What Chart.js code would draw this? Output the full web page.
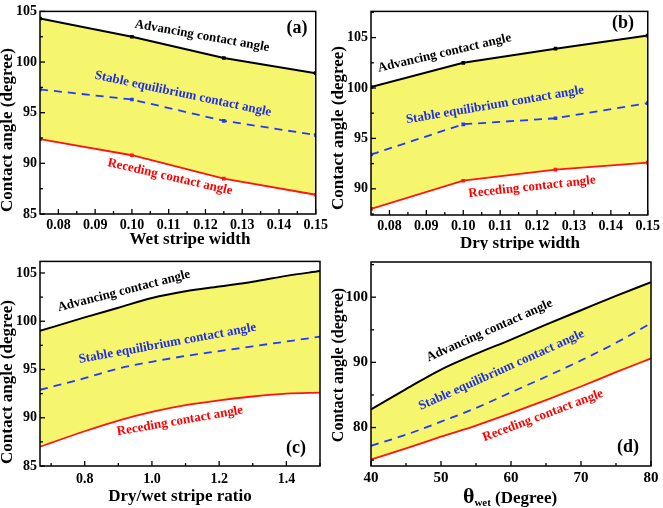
<!DOCTYPE html>
<html>
<head>
<meta charset="utf-8">
<script src="https://cdn.jsdelivr.net/npm/chart.js@4.4.1/dist/chart.umd.min.js"></script>
<style>
html,body{margin:0;padding:0;background:#fff;}
#wrap{position:relative;width:663px;height:508px;overflow:hidden;}
canvas{position:absolute;}
</style>
</head>
<body>
<div id="wrap">
<canvas id="ca" width="331" height="250" style="left:0;top:0"></canvas>
<canvas id="cb" width="332" height="250" style="left:331px;top:0"></canvas>
<canvas id="cc" width="331" height="258" style="left:0;top:250px"></canvas>
<canvas id="cd" width="332" height="258" style="left:331px;top:250px"></canvas>
</div>
<script>
// ---------- data ----------
// (a) wet stripe width
const wetWidth = [0.075, 0.100, 0.125, 0.150];
const advA = [104.3, 102.5, 100.4, 98.9];
const staA = [97.3, 96.3, 94.2, 92.8];
const recA = [92.4, 90.8, 88.5, 86.9];
const xTicksA = [0.08, 0.09, 0.10, 0.11, 0.12, 0.13, 0.14, 0.15];
const yTicksA = [85, 90, 95, 100, 105];

// (b) dry stripe width
const dryWidth = [0.075, 0.100, 0.125, 0.150];
const advB = [100.1, 102.5, 103.9, 105.2];
const staB = [93.4, 96.4, 97.0, 98.5];
const recB = [88.0, 90.8, 91.9, 92.6];
const xTicksB = [0.08, 0.09, 0.10, 0.11, 0.12, 0.13, 0.14, 0.15];
const yTicksB = [90, 95, 100, 105];

// (c) dry/wet stripe ratio
const ratio = [0.667, 0.8, 0.9, 1.0, 1.1, 1.2, 1.3, 1.4, 1.5];
const advC = [99.0, 100.4, 101.4, 102.4, 103.1, 103.6, 104.1, 104.7, 105.2];
const staC = [92.9, 94.1, 95.1, 95.8, 96.4, 96.9, 97.4, 97.9, 98.4];
const recC = [87.0, 88.6, 89.7, 90.6, 91.3, 91.8, 92.2, 92.5, 92.6];
const xTicksC = [0.8, 1.0, 1.2, 1.4];
const yTicksC = [85, 90, 95, 100, 105];

// (d) theta_wet
const thetaWet = [40, 45, 50, 55, 60, 65, 70, 75, 80];
const advD = [82.8, 85.9, 88.9, 91.3, 93.5, 95.8, 98.0, 100.2, 102.3];
const staD = [77.2, 78.9, 80.9, 83.0, 85.4, 87.8, 90.3, 93.0, 96.0];
const recD = [75.1, 76.8, 78.6, 80.3, 82.2, 84.2, 86.3, 88.5, 90.6];
const xTicksD = [40, 50, 60, 70, 80];
const yTicksD = [80, 90, 100];

const labelAdv = 'Advancing contact angle';
const labelSta = 'Stable equilibrium contact angle';
const labelRec = 'Receding contact angle';
const yTitle = 'Contact angle (degree)';

// ---------- style ----------
const FONT = '"Liberation Serif", "Times New Roman", serif';
const YELLOW = 'rgb(245,245,110)';
const BLACK = '#000000';
const BLUE = '#2438ff';
const RED = '#ff1414';
const BLUE_T = '#1e2ee6';
const RED_T = '#ff0000';

function pts(xs, ys){ return xs.map((x,i)=>({x:x, y:ys[i]})); }
function range(a,b,s){ const r=[]; for(let v=a; v<=b+1e-9; v+=s) r.push(+v.toFixed(6)); return r; }

const framePlugin = {
  id: 'frame',
  afterDraw(chart, args, o){
    const ctx = chart.ctx, a = chart.chartArea, x = chart.scales.x, y = chart.scales.y;
    ctx.save();
    ctx.strokeStyle = '#000'; ctx.lineWidth = 1.5;
    ctx.strokeRect(a.left, a.top, a.right - a.left, a.bottom - a.top);
    ctx.lineWidth = 1.3;
    const ln = (x1,y1,x2,y2)=>{ctx.beginPath(); ctx.moveTo(x1,y1); ctx.lineTo(x2,y2); ctx.stroke();};
    o.xMajor.forEach(v=>{const p=x.getPixelForValue(v); ln(p,a.bottom,p,a.bottom-5);});
    o.xMinor.forEach(v=>{const p=x.getPixelForValue(v); ln(p,a.bottom,p,a.bottom-3);});
    o.yMajor.forEach(v=>{const p=y.getPixelForValue(v); ln(a.left,p,a.left+5,p);});
    o.yMinor.forEach(v=>{const p=y.getPixelForValue(v); ln(a.left,p,a.left+3,p);});
    // annotations along curves
    o.notes.forEach(n=>{
      ctx.save(); ctx.translate(n.x, n.y); ctx.rotate(n.a*Math.PI/180);
      ctx.font = 'bold ' + n.s + 'px ' + FONT; ctx.fillStyle = n.c;
      ctx.textAlign = 'center'; ctx.textBaseline = 'middle';
      ctx.fillText(n.t, 0, 0); ctx.restore();
    });
    // y title
    ctx.save(); ctx.translate(o.yt.x, o.yt.y); ctx.rotate(-Math.PI/2);
    ctx.font = 'bold ' + o.yt.s + 'px ' + FONT; ctx.fillStyle = '#000';
    ctx.textAlign = 'center'; ctx.textBaseline = 'middle';
    ctx.fillText(o.yt.t, 0, 0); ctx.restore();
    // x title (parts, for subscripts)
    ctx.fillStyle = '#000'; ctx.textBaseline = 'alphabetic'; ctx.textAlign = 'left';
    let total = 0;
    o.xt.parts.forEach(p=>{ctx.font='bold '+p.s+'px '+FONT; p.w = ctx.measureText(p.t).width; total += p.w;});
    let cx = o.xt.x - total/2;
    o.xt.parts.forEach(p=>{ctx.font='bold '+p.s+'px '+FONT; ctx.fillText(p.t, cx, o.xt.y + (p.dy||0)); cx += p.w;});
    ctx.restore();
  }
};

function makePanel(id, cfg){
  const lineDs = (label, data, color, extra)=>Object.assign({
    label, data, borderColor: color, backgroundColor: color,
    pointBackgroundColor: color, pointBorderColor: color,
    pointStyle: 'rect', pointRadius: cfg.markers ? 2.6 : 0, pointBorderWidth: 0,
    borderWidth: 1.8, fill: false, tension: 0,
    cubicInterpolationMode: cfg.smooth ? 'monotone' : 'default'
  }, extra||{});
  const tf = {family: FONT, size: cfg.tickSize, weight: 'bold'};
  new Chart(document.getElementById(id), {
    type: 'line',
    data: { datasets: [
      lineDs(labelAdv, pts(cfg.xs, cfg.adv), BLACK, {fill: {target: 2}, backgroundColor: YELLOW, borderWidth: 2}),
      lineDs(labelSta, pts(cfg.xs, cfg.sta), BLUE, {borderDash: [8,6], borderWidth: 1.8}),
      lineDs(labelRec, pts(cfg.xs, cfg.rec), RED, {})
    ]},
    options: {
      responsive: false, animation: false, devicePixelRatio: 1,
      layout: {padding: cfg.pad},
      plugins: {
        legend: {display: false}, tooltip: {enabled: false},
        filler: {drawTime: 'beforeDatasetsDraw', propagate: false},
        frame: cfg.frame
      },
      scales: {
        x: {type: 'linear', min: cfg.xmin, max: cfg.xmax,
          afterFit: s=>{s.height = cfg.xh;},
          afterBuildTicks: s=>{s.ticks = cfg.xticks.map(v=>({value:v}));},
          grid: {display: false, drawTicks: false}, border: {display: false},
          ticks: {padding: cfg.xpad, color: '#000', font: tf, autoSkip: false, maxRotation: 0,
                  callback: v=>v.toFixed(cfg.xdec)}},
        y: {type: 'linear', min: cfg.ymin, max: cfg.ymax,
          afterFit: s=>{s.width = 40;},
          afterBuildTicks: s=>{s.ticks = cfg.yticks.map(v=>({value:v}));},
          grid: {display: false, drawTicks: false}, border: {display: false},
          ticks: {padding: 3, color: '#000', font: tf, autoSkip: false,
                  callback: v=>v.toFixed(0)}}
      }
    },
    plugins: [framePlugin]
  });
}

const note = (t,x,y,a,c,s)=>({t,x,y,a,c,s:s||13});

makePanel('ca', {
  xs: wetWidth, adv: advA, sta: staA, rec: recA, markers: true, smooth: false,
  xmin: 0.075, xmax: 0.15, ymin: 85, ymax: 105, xticks: xTicksA, yticks: yTicksA, xdec: 2,
  tickSize: 14, xpad: 3, xh: 36, pad: {left: 0, right: 11, top: 5, bottom: 0},
  frame: {
    xMajor: xTicksA, xMinor: range(0.085, 0.145, 0.01), yMajor: yTicksA, yMinor: range(87.5, 102.5, 5),
    notes: [note(labelAdv, 202, 36, 10, BLACK), note(labelSta, 183, 94, 12, BLUE_T), note(labelRec, 170, 177, 13, RED_T), note('(a)', 297, 28, 0, BLACK, 18)],
    yt: {t: yTitle, x: 8, y: 130, s: 17},
    xt: {x: 190, y: 244, parts: [{t: 'Wet stripe width', s: 17}]}
  }
});

makePanel('cb', {
  xs: dryWidth, adv: advB, sta: staB, rec: recB, markers: true, smooth: false,
  xmin: 0.075, xmax: 0.15, ymin: 87.4, ymax: 107.6, xticks: xTicksB, yticks: yTicksB, xdec: 2,
  tickSize: 14, xpad: 3, xh: 35, pad: {left: 0, right: 12, top: 5, bottom: 0},
  frame: {
    xMajor: xTicksB, xMinor: range(0.085, 0.145, 0.01), yMajor: yTicksB, yMinor: range(87.5, 107.5, 5),
    notes: [note(labelAdv, 113.5, 53, -13, BLACK), note(labelSta, 164, 105, -9.6, BLUE_T), note(labelRec, 201, 187, -6.2, RED_T), note('(b)', 292, 23, 0, BLACK, 18)],
    yt: {t: yTitle, x: 8, y: 128, s: 17},
    xt: {x: 189, y: 248, parts: [{t: 'Dry stripe width', s: 17}]}
  }
});

makePanel('cc', {
  xs: ratio, adv: advC, sta: staC, rec: recC, markers: false, smooth: true,
  xmin: 0.667, xmax: 1.5, ymin: 85, ymax: 106.2, xticks: xTicksC, yticks: yTicksC, xdec: 1,
  tickSize: 14, xpad: 5, xh: 42, pad: {left: 0, right: 11, top: 5, bottom: 0},
  frame: {
    xMajor: xTicksC, xMinor: range(0.7, 1.5, 0.2), yMajor: yTicksC, yMinor: range(87.5, 102.5, 5),
    notes: [note(labelAdv, 124, 41, -14.4, BLACK), note(labelSta, 167.5, 93.5, -10.4, BLUE_T), note(labelRec, 180, 171, -9.9, RED_T), note('(c)', 296, 198, 0, BLACK, 18)],
    yt: {t: yTitle, x: 8, y: 132, s: 17},
    xt: {x: 180, y: 251, parts: [{t: 'Dry/wet stripe ratio', s: 17}]}
  }
});

makePanel('cd', {
  xs: thetaWet, adv: advD, sta: staD, rec: recD, markers: false, smooth: true,
  xmin: 40, xmax: 80, ymin: 74.1, ymax: 105.4, xticks: xTicksD, yticks: yTicksD, xdec: 0,
  tickSize: 15, xpad: 3, xh: 42, pad: {left: 0, right: 12, top: 6, bottom: 0},
  frame: {
    xMajor: xTicksD, xMinor: range(45, 75, 10), yMajor: yTicksD, yMinor: range(75, 105, 10),
    notes: [note(labelAdv, 158.5, 80.5, -24.1, BLACK), note(labelSta, 170.5, 120, -24.2, BLUE_T), note(labelRec, 212, 165.5, -20.6, RED_T), note('(d)', 297, 197, 0, BLACK, 18)],
    yt: {t: yTitle, x: 8, y: 115, s: 16},
    xt: {x: 179, y: 253, parts: [{t: 'θ', s: 22}, {t: 'wet', s: 11, dy: 3}, {t: ' (Degree)', s: 17}]}
  }
});
</script>
</body>
</html>
